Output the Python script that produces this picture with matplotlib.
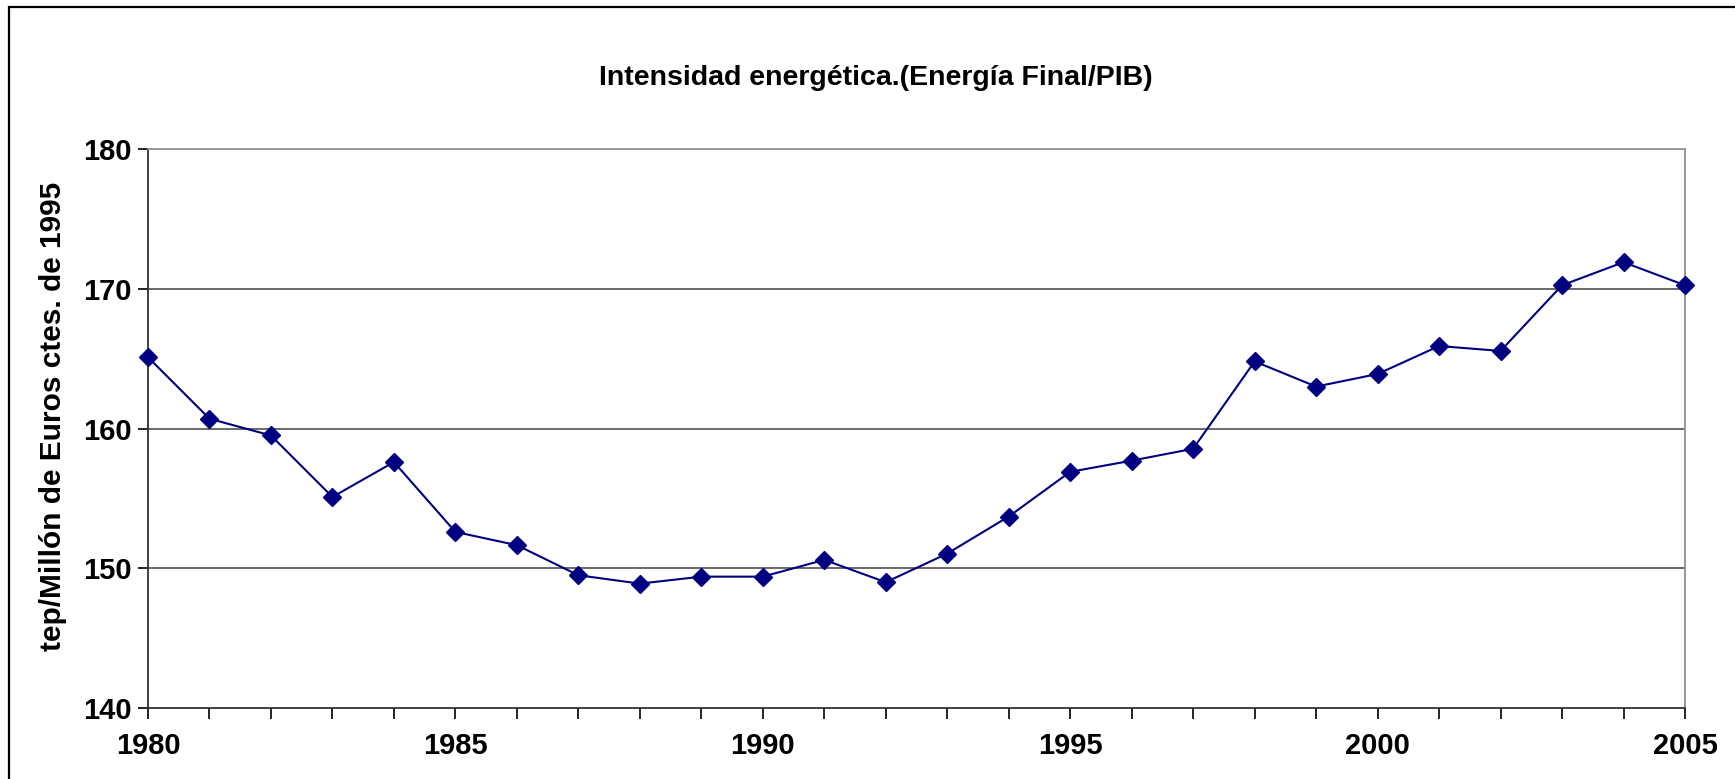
import matplotlib
matplotlib.use("Agg")
import matplotlib.pyplot as plt
from matplotlib.patches import Rectangle

years = list(range(1980, 2006))
intensity = [165.1, 160.7, 159.5, 155.1, 157.6, 152.6, 151.65, 149.5, 148.9, 149.4,
             149.4, 150.6, 149.0, 151.05, 153.7, 156.9, 157.7, 158.55, 164.8, 163.0,
             163.9, 165.9, 165.55, 170.25, 171.9, 170.25]
yticks = [140, 150, 160, 170, 180]
xlabel_years = [1980, 1985, 1990, 1995, 2000, 2005]

title = "Intensidad energética.(Energía Final/PIB)"
ylabel = "tep/Millón de Euros ctes. de 1995"

plt.rcParams['font.family'] = ['Liberation Sans', 'DejaVu Sans']

W, H = 1735, 779
fig = plt.figure(figsize=(W / 100, H / 100), dpi=100)
ax = fig.add_axes([148 / W, 1 - 708 / H, (1685 - 148) / W, (708 - 149) / H])

# outer chart frame
fig.patches.append(Rectangle((9 / W, -0.05), 1.1, 1 - 7 / H + 0.05, transform=fig.transFigure,
                             fill=False, edgecolor='black', linewidth=1.6))

for v in yticks[1:-1]:
    ax.axhline(v, color='#505050', linewidth=1.2, zorder=1)

ax.plot(years, intensity, color='#000080', linewidth=1.5, marker='D', markersize=9.5,
        markerfacecolor='#000080', markeredgecolor='#000080', clip_on=False, zorder=3)

ax.set_xlim(1980, 2005)
ax.set_ylim(140, 180)
ax.set_xticks(years)
ax.set_xticklabels([str(y) if y in xlabel_years else '' for y in years])
ax.set_yticks(yticks)

ax.tick_params(axis='both', direction='out', length=8, width=1.2, color='black',
               labelsize=21)
ax.tick_params(axis='y', length=7, pad=5)
ax.tick_params(axis='x', pad=9)
for lab in ax.get_xticklabels() + ax.get_yticklabels():
    lab.set_fontweight('bold')

ax.spines['left'].set_color('#303030')
ax.spines['bottom'].set_color('#303030')
ax.spines['left'].set_linewidth(1.3)
ax.spines['bottom'].set_linewidth(1.3)
ax.spines['top'].set_color('#909090')
ax.spines['right'].set_color('#909090')
ax.spines['top'].set_linewidth(1.3)
ax.spines['right'].set_linewidth(1.3)

fig.text(53 / W, 1 - 416 / H, ylabel, rotation=90, ha='center', va='center',
         fontsize=21.5, fontweight='bold')
fig.text(876 / W, 1 - 78 / H, title, ha='center', va='center', fontsize=20.5,
         fontweight='bold')

fig.savefig("out.png", dpi=100)
